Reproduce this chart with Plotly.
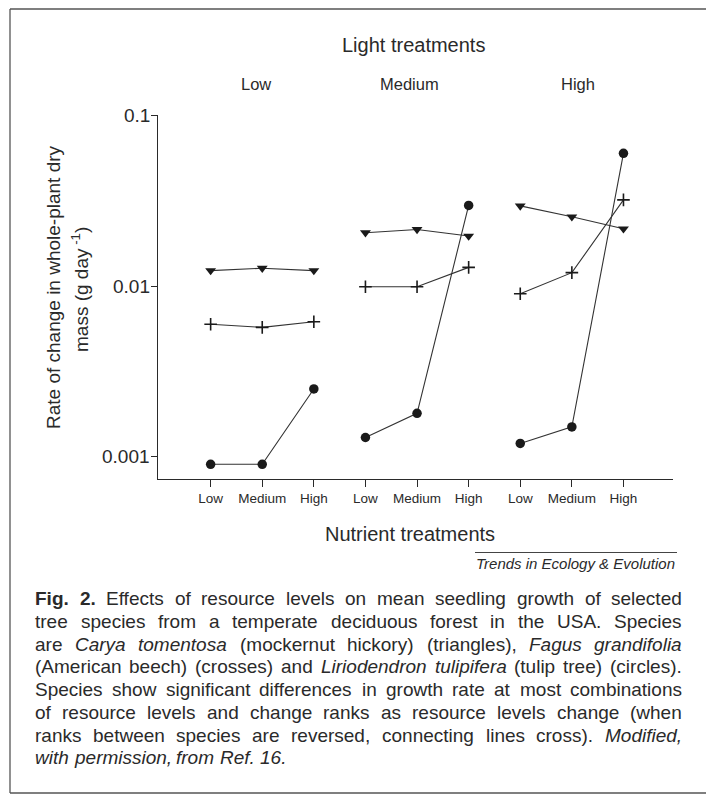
import math
import plotly.graph_objects as go

# ---------------- data ----------------
nutrient_labels = ["Low", "Medium", "High"] * 3
light_labels = ["Low", "Medium", "High"]
x_pos = list(range(9))

# Carya tomentosa (triangles), Fagus grandifolia (crosses), Liriodendron tulipifera (circles)
carya_tomentosa = [0.0123, 0.0127, 0.0123, 0.0205, 0.0214, 0.0196, 0.0294, 0.0254, 0.0216]
fagus_grandifolia = [0.00597, 0.00573, 0.00618, 0.0099, 0.0099, 0.01285, 0.0090, 0.01197, 0.0319]
liriodendron_tulipifera = [0.000906, 0.000906, 0.0025, 0.0013, 0.0018, 0.0296, 0.0012, 0.0015, 0.0597]

y_tick_vals = [0.001, 0.01, 0.1]
y_tick_text = ["0.001", "0.01", "0.1"]

caption_lines = [
    "<b>Fig. 2.</b> Effects of resource levels on mean seedling growth of selected",
    "tree species from a temperate deciduous forest in the USA. Species",
    "are <i>Carya tomentosa</i> (mockernut hickory) (triangles), <i>Fagus grandifolia</i>",
    "(American beech) (crosses) and <i>Liriodendron tulipifera</i> (tulip tree) (circles).",
    "Species show significant differences in growth rate at most combinations",
    "of resource levels and change ranks as resource levels change (when",
    "ranks between species are reversed, connecting lines cross). <i>Modified,</i>",
    "<i>with permission, from Ref. 16.</i>",
]

# ---------------- layout helpers ----------------
PAGE_W, PAGE_H = 714, 796
OFF = 8  # default body margin of the html page
W, H = PAGE_W - OFF, PAGE_H - OFF
L, R, T, B = 158, 673, 115, 479   # plot area in page pixels
FONT = "Liberation Sans, Arial, Helvetica, sans-serif"
INK = "#2a2a2a"


def px(x):
    return (x - L) / (R - L)


def py(y):
    return (B - y) / (B - T)


def with_gaps(vals):
    xs, ys = [], []
    for g in range(3):
        for k in range(3):
            xs.append(x_pos[3 * g + k])
            ys.append(vals[3 * g + k])
        xs.append(None)
        ys.append(None)
    return xs, ys


fig = go.Figure()
series = [
    (carya_tomentosa, dict(symbol="triangle-down", size=9.5, color="#1a1a1a")),
    (fagus_grandifolia, dict(symbol="cross-thin", size=9, color="#1a1a1a",
                             line=dict(width=1.6, color="#1a1a1a"))),
    (liriodendron_tulipifera, dict(symbol="circle", size=9.5, color="#1a1a1a")),
]
for vals, mk in series:
    xs, ys = with_gaps(vals)
    fig.add_trace(go.Scatter(x=xs, y=ys, mode="lines+markers",
                             line=dict(color="#333333", width=1.1),
                             marker=mk, connectgaps=False, showlegend=False,
                             hoverinfo="skip"))

fig.update_xaxes(range=[-1.02, 8.96], tickvals=x_pos, ticktext=nutrient_labels,
                 ticks="outside", ticklen=7, tickwidth=1.1, tickcolor=INK,
                 showline=True, linecolor=INK, linewidth=1.2, showgrid=False,
                 zeroline=False, tickfont=dict(size=13.5, color=INK, family=FONT))
fig.update_yaxes(type="log", range=[-3.1287, -1], tickvals=y_tick_vals,
                 showticklabels=False, ticks="outside", ticklen=6, tickwidth=1.1,
                 tickcolor=INK, showline=True, linecolor=INK, linewidth=1.2,
                 showgrid=False, zeroline=False)

ann = []


def add_text(text, x, y, size, xanchor="center", yanchor="middle", angle=0):
    ann.append(dict(text=text, x=px(x), y=py(y), xref="paper", yref="paper",
                    xanchor=xanchor, yanchor=yanchor, showarrow=False,
                    textangle=angle, font=dict(size=size, color=INK, family=FONT)))


# y tick labels placed next to the ticks (closer than plotly's default standoff)
for v, t in zip(y_tick_vals, y_tick_text):
    ann.append(dict(text=t, x=px(151), y=math.log10(v), xref="paper", yref="y",
                    xanchor="right", yanchor="middle", showarrow=False,
                    borderpad=0, font=dict(size=19, color=INK, family=FONT)))

add_text("Light treatments", 413, 45, 20)
for lab, cx in zip(light_labels, [256, 409, 578]):
    add_text(lab, cx, 84, 16.5)
add_text("Nutrient treatments", 410, 534, 20)
add_text("Rate of change in whole-plant dry", 53, 287, 19, angle=-90)
add_text("mass (g day<sup> -1</sup>)", 80, 290, 19, angle=-90)
add_text("<i>Trends in Ecology &amp; Evolution</i>", 677, 563, 15, xanchor="right")

# ---------------- justified caption ----------------
AW = {' ': 278, '!': 278, '&': 667, "'": 191, '(': 333, ')': 333, ',': 278, '-': 333,
      '.': 278, '/': 278, ':': 278, ';': 278, '?': 556,
      'A': 667, 'B': 667, 'C': 722, 'D': 722, 'E': 667, 'F': 611, 'G': 778, 'H': 722,
      'I': 278, 'J': 500, 'K': 667, 'L': 556, 'M': 833, 'N': 722, 'O': 778, 'P': 667,
      'Q': 778, 'R': 722, 'S': 667, 'T': 611, 'U': 722, 'V': 667, 'W': 944, 'X': 667,
      'Y': 667, 'Z': 611,
      'a': 556, 'b': 556, 'c': 500, 'd': 556, 'e': 556, 'f': 278, 'g': 556, 'h': 556,
      'i': 222, 'j': 222, 'k': 500, 'l': 222, 'm': 833, 'n': 556, 'o': 556, 'p': 556,
      'q': 556, 'r': 333, 's': 500, 't': 278, 'u': 556, 'v': 500, 'w': 722, 'x': 500,
      'y': 500, 'z': 500}
BW = {'F': 611, 'i': 278, 'g': 611, '.': 278, ' ': 278}


def text_w(s, size, bold=False):
    tot = 0
    for ch in s:
        if ch.isdigit():
            tot += 556
        elif bold and ch in BW:
            tot += BW[ch]
        else:
            tot += AW.get(ch, 556)
    return tot * size / 1000.0


def parse(line):
    words = []
    bold = ital = False
    for tok in line.split(" "):
        t = tok
        if t.startswith("<b>"):
            bold = True
            t = t[3:]
        if t.startswith("<i>"):
            ital = True
            t = t[3:]
        end_b = t.endswith("</b>")
        end_i = t.endswith("</i>")
        t = t.replace("</b>", "").replace("</i>", "")
        words.append((t, bold, ital))
        if end_b:
            bold = False
        if end_i:
            ital = False
    return words


CAP_SIZE = 19
CAP_LEFT, CAP_RIGHT = 35, 682
cap_y = [598, 621, 644, 666.5, 689, 712, 735, 757]
for i, line in enumerate(caption_lines):
    words = parse(line)
    widths = [text_w(w, CAP_SIZE, b) for w, b, _ in words]
    if i < len(caption_lines) - 1 and len(words) > 1:
        gap = (CAP_RIGHT - CAP_LEFT - sum(widths)) / (len(words) - 1)
    else:
        gap = text_w(" ", CAP_SIZE)
    x = CAP_LEFT
    for (w, b, it), wd in zip(words, widths):
        txt = w
        if b:
            txt = "<b>" + txt + "</b>"
        if it:
            txt = "<i>" + txt + "</i>"
        ann.append(dict(text=txt, x=px(x), y=py(cap_y[i]), xref="paper", yref="paper",
                        xanchor="left", yanchor="middle", showarrow=False,
                        borderpad=0, borderwidth=0,
                        font=dict(size=CAP_SIZE, color=INK, family=FONT)))
        x += wd + gap

shapes = [
    # rule above the journal credit
    dict(type="line", xref="paper", yref="paper", x0=px(475), x1=px(677),
         y0=py(552.5), y1=py(552.5), line=dict(color="#444444", width=1)),
    # frame around the figure
    dict(type="line", xref="paper", yref="paper", x0=px(10), x1=px(714),
         y0=py(9), y1=py(9), line=dict(color="#555555", width=1.6)),
    dict(type="line", xref="paper", yref="paper", x0=px(10), x1=px(10),
         y0=py(9), y1=py(793), line=dict(color="#555555", width=1.3)),
    dict(type="line", xref="paper", yref="paper", x0=px(10), x1=px(709),
         y0=py(793), y1=py(793), line=dict(color="#555555", width=1.3)),
    dict(type="line", xref="paper", yref="paper", x0=px(709), x1=px(709),
         y0=py(247), y1=py(793), line=dict(color="#555555", width=1.3)),
]

fig.update_layout(width=W, height=H, autosize=False,
                  margin=dict(l=L - OFF, r=PAGE_W - R, t=T - OFF, b=PAGE_H - B, pad=0),
                  paper_bgcolor="white", plot_bgcolor="white",
                  annotations=ann, shapes=shapes,
                  font=dict(family=FONT, color=INK))

fig.write_html("out.html")
